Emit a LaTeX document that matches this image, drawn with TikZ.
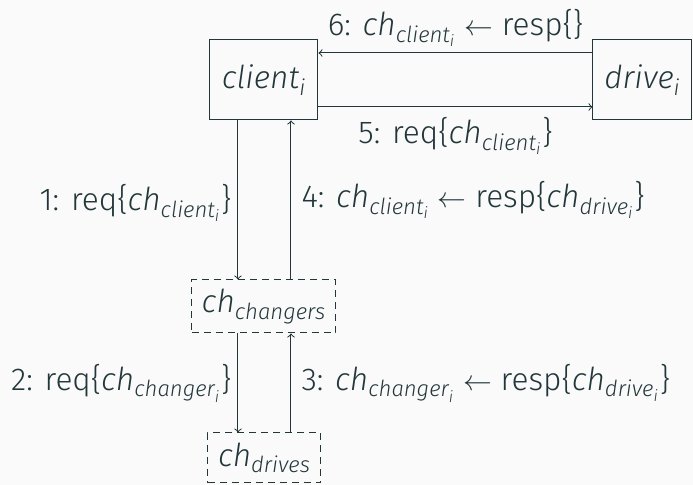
\documentclass[tikz,border=0pt]{standalone}
\usepackage{amsmath}
\usepackage{fontspec}
\setmainfont{Fira Sans}[UprightFont=* Light, ItalicFont=* Light Italic]
\usepackage{tikz}
\usetikzlibrary{calc}

\definecolor{mDarkTeal}{HTML}{23373B}
\definecolor{mBackground}{HTML}{FAFAFA}

\begin{document}
\begin{tikzpicture}[x=0.5pt,y=-0.5pt,color=mDarkTeal,line width=0.5pt,
    font=\fontsize{15.8}{19}\selectfont]
          %\draw[very thin,lightgray] (0,0) grid[step=50] (693,485);
          \fill[mBackground] (0,0) rectangle (693,485);
          \node[draw,inner sep=0pt,minimum width=54pt,minimum height=40pt]
          (client) at (264,80) {$\textit{client}_{\textit{i}}$};
          \node[draw,inner sep=0pt,minimum width=49.5pt,minimum height=40pt]
          (drive) at (642.5,80) {$\textit{drive}_{\textit{i}}$};
          \node[draw,dash pattern=on 3.5pt off 2.5pt,inner sep=0pt,
            minimum width=72pt,minimum height=26.5pt] (changers) at (264,306.5)
          {$\textit{ch}_{\textit{changers}}$};
          \node[draw,dash pattern=on 3.5pt off 2.5pt,inner sep=0pt,
            minimum width=56.5pt,minimum height=25pt] (drives) at (264.5,458)
          {$\textit{ch}_{\textit{drives}}$};
          \draw[->] ([yshift=13.5pt]drive.west)--([yshift=13.5pt]client.east)
          node[midway,above,inner sep=3pt]{6: $\textit{ch}_{\textit{client}_{\textit{i}}}
            \leftarrow$ resp\{\}};
          \draw[->] ([yshift=-13.5pt]client.east)--([yshift=-13.5pt]drive.west)
          node[midway,below,inner sep=5pt]{5: req\{$\textit{ch}_{\textit{client}_{\textit{i}}}$\}};
          \draw[->] ([xshift=-13pt]client.south)--([xshift=-13pt]changers.north)
          node[midway,left,inner sep=3pt,yshift=-1.5pt]{1: req\{$\textit{ch}_{\textit{client}_{\textit{i}}}$\}};
          \draw[->] ([xshift=13.5pt]changers.north)--([xshift=13.5pt]client.south)
          node[midway,right,inner sep=5pt]{4: $\textit{ch}_{\textit{client}_{\textit{i}}}
            \leftarrow$ resp\{$\textit{ch}_{\textit{drive}_{\textit{i}}}$\}};
          \draw[->] ([xshift=-13pt]changers.south)--([xshift=-13.25pt]drives.north)
          node[midway,left,inner sep=3pt]{2: req\{$\textit{ch}_{\textit{changer}_{\textit{i}}}$\}};
          \draw[->] ([xshift=13.25pt]drives.north)--([xshift=13.5pt]changers.south)
          node[midway,right,inner sep=5pt]{3: $\textit{ch}_{\textit{changer}_{\textit{i}}}
            \leftarrow$ resp\{$\textit{ch}_{\textit{drive}_{\textit{i}}}$\}};
        \end{tikzpicture}
\end{document}
